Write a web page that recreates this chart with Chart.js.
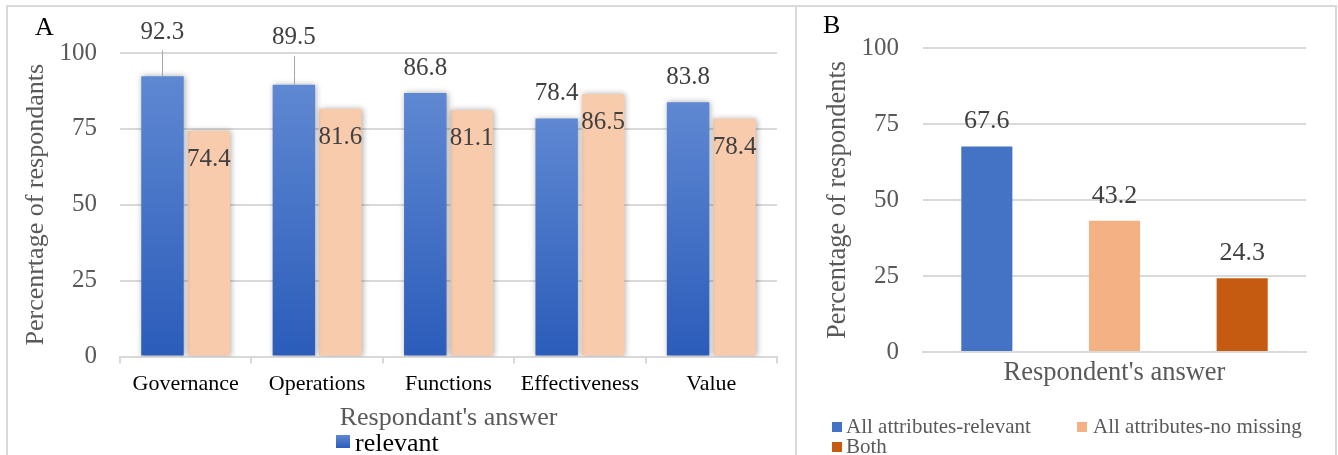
<!DOCTYPE html>
<html><head><meta charset="utf-8">
<script src="https://cdn.jsdelivr.net/npm/chart.js@4"></script>
<style>
html,body{margin:0;padding:0;background:#fff;overflow:hidden;width:1338px;height:455px}
#wrap{position:relative;width:1338px;height:455px;font-family:'Liberation Serif','Times New Roman',serif;overflow:hidden}
.frame{position:absolute;border:2px solid #d9d9d9;box-sizing:border-box}
canvas{position:absolute;top:0}
.txt{position:absolute;white-space:nowrap;line-height:1}
.sw{position:absolute}
</style></head>
<body><div id="wrap">
<div class="frame" style="left:6px;top:5px;width:791px;height:470px"></div>
<div class="frame" style="left:795px;top:5px;width:542px;height:470px"></div>
<canvas id="cA" width="795" height="455" style="left:0"></canvas>
<canvas id="cB" width="543" height="455" style="left:795px"></canvas>
<div class="txt" style="left:35px;top:14px;font-size:26px;color:#000">A</div>
<div class="txt" style="left:823px;top:12px;font-size:26px;color:#000">B</div>
<div class="sw" style="left:336px;top:435px;width:14px;height:13px;background:linear-gradient(#5f88d2,#2b5cba)"></div>
<div class="txt" id="legA" style="left:355px;top:430px;font-size:26px;color:#000"></div>
<div class="sw" style="left:832px;top:422px;width:10px;height:10px;background:#4472c4"></div>
<div class="txt" id="legB0" style="left:846px;top:416px;font-size:21px;color:#595959"></div>
<div class="sw" style="left:1077px;top:422px;width:10px;height:10px;background:#f4b183"></div>
<div class="txt" id="legB1" style="left:1093px;top:416px;font-size:21px;color:#595959"></div>
<div class="sw" style="left:832px;top:442px;width:10px;height:10px;background:#c55a11"></div>
<div class="txt" id="legB2" style="left:846px;top:436px;font-size:21px;color:#595959"></div>
</div>
<script>
// ---- data ----
const categoriesA = ['Governance', 'Operations', 'Functions', 'Effectiveness', 'Value'];
const relevantA = [92.3, 89.5, 86.8, 78.4, 83.8];
const noMissingA = [74.4, 81.6, 81.1, 86.5, 78.4];
const seriesNamesA = ['relevant', 'no missing'];
const yTickValues = [0, 25, 50, 75, 100];
const categoriesB = ['All attributes-relevant', 'All attributes-no missing', 'Both'];
const valuesB = [67.6, 43.2, 24.3];
const titleAxisYA = 'Percenrtage of respondants';
const titleAxisXA = "Respondant's answer";
const titleAxisYB = 'Percentage of respondents';
const titleAxisXB = "Respondent's answer";

// ---- style ----
const FONT = "'Liberation Serif', 'Times New Roman', serif";
const labelLiftA = [44, 47, 25, 25, 25];
const colorsB = ['#4472c4', '#f4b183', '#c55a11'];

document.getElementById('legA').textContent = seriesNamesA[0];
categoriesB.forEach((c, i) => document.getElementById('legB' + i).textContent = c);

const setTicks = s => { s.ticks = yTickValues.map(v => ({value: v})); };

const shadowPlugin = {
  id: 'barShadow',
  beforeDatasetsDraw(chart) {
    const c = chart.ctx; c.save();
    c.shadowColor = 'rgba(0,0,0,0.33)'; c.shadowBlur = 6; c.shadowOffsetX = 1; c.shadowOffsetY = 0;
  },
  afterDatasetsDraw(chart) { chart.ctx.restore(); }
};

const labelsA = {
  id: 'labelsA',
  afterDatasetsDraw(chart) {
    const c = chart.ctx; c.save();
    c.font = '25px ' + FONT; c.fillStyle = '#404040'; c.textAlign = 'center'; c.textBaseline = 'middle';
    chart.getDatasetMeta(0).data.forEach((bar, i) => {
      const y = bar.y - labelLiftA[i];
      c.fillText(relevantA[i].toFixed(1), bar.x, y);
      if (labelLiftA[i] > 30) {
        c.save(); c.strokeStyle = '#a6a6a6'; c.lineWidth = 1;
        c.beginPath(); c.moveTo(Math.round(bar.x) + 0.5, y + 18); c.lineTo(Math.round(bar.x) + 0.5, bar.y); c.stroke();
        c.restore();
      }
    });
    chart.getDatasetMeta(1).data.forEach((bar, i) => {
      c.fillText(noMissingA[i].toFixed(1), bar.x, bar.y + 28.5);
    });
    c.restore();
  }
};

const labelsB = {
  id: 'labelsB',
  afterDatasetsDraw(chart) {
    const c = chart.ctx; c.save();
    c.font = '26px ' + FONT; c.fillStyle = '#404040'; c.textAlign = 'center'; c.textBaseline = 'middle';
    chart.getDatasetMeta(0).data.forEach((bar, i) => {
      c.fillText(valuesB[i].toFixed(1), bar.x, bar.y - 25);
    });
    c.restore();
  }
};

const blueGradient = (ctx) => {
  const chart = ctx.chart;
  if (!chart.chartArea || ctx.type !== 'data') return '#4472c4';
  const ys = chart.scales.y;
  const top = ys.getPixelForValue(ctx.raw), bot = ys.getPixelForValue(0);
  const g = chart.ctx.createLinearGradient(0, top, 0, bot);
  g.addColorStop(0, '#5f88d2'); g.addColorStop(1, '#2b5cba');
  return g;
};

function draw() {
  new Chart(document.getElementById('cA'), {
    type: 'bar',
    data: {
      labels: categoriesA,
      datasets: [
        {label: seriesNamesA[0], data: relevantA, backgroundColor: blueGradient, borderWidth: 0},
        {label: seriesNamesA[1], data: noMissingA, backgroundColor: '#f8cbad', borderWidth: 0}
      ]
    },
    options: {
      responsive: false, animation: false, devicePixelRatio: 1,
      layout: {padding: {top: 53, right: 18, left: 0, bottom: 21.5}},
      datasets: {bar: {categoryPercentage: 0.707, barPercentage: 0.914}},
      plugins: {legend: {display: false}, tooltip: {enabled: false}},
      scales: {
        x: {
          grid: {drawOnChartArea: false, drawTicks: true, tickLength: 7, color: '#d9d9d9', lineWidth: 2, offset: true},
          border: {display: true, color: '#d9d9d9', width: 2},
          ticks: {color: '#000', font: {family: FONT, size: 22}, padding: 8, maxRotation: 0, autoSkip: false},
          title: {display: true, text: titleAxisXA, color: '#595959', font: {family: FONT, size: 26}, padding: {top: 0, bottom: 0}},
          afterFit(s) { s.height = 77; }
        },
        y: {
          min: 0, max: 100, afterBuildTicks: setTicks,
          grid: {color: '#d9d9d9', lineWidth: 2, drawTicks: false},
          border: {display: false},
          ticks: {color: '#595959', font: {family: FONT, size: 25}, padding: 23},
          title: {display: true, text: titleAxisYA, color: '#595959', font: {family: FONT, size: 26}, padding: {top: 21, bottom: 0}},
          afterFit(s) { s.width = 120; }
        }
      }
    },
    plugins: [shadowPlugin, labelsA]
  });

  new Chart(document.getElementById('cB'), {
    type: 'bar',
    data: {
      labels: categoriesB,
      datasets: [{label: titleAxisXB, data: valuesB, backgroundColor: colorsB, borderWidth: 0}]
    },
    options: {
      responsive: false, animation: false, devicePixelRatio: 1,
      layout: {padding: {top: 48, right: 32, left: 0, bottom: 66}},
      datasets: {bar: {categoryPercentage: 1, barPercentage: 0.4}},
      plugins: {legend: {display: false}, tooltip: {enabled: false}},
      scales: {
        x: {
          grid: {display: false},
          border: {display: true, color: '#d9d9d9', width: 2},
          ticks: {display: false},
          title: {display: true, text: titleAxisXB, color: '#595959', font: {family: FONT, size: 26.5}, padding: {top: 0, bottom: 0}},
          afterFit(s) { s.height = 37; }
        },
        y: {
          min: 0, max: 100, afterBuildTicks: setTicks,
          grid: {color: '#d9d9d9', lineWidth: 2, drawTicks: false},
          border: {display: false},
          ticks: {color: '#595959', font: {family: FONT, size: 25}, padding: 24},
          title: {display: true, text: titleAxisYB, color: '#595959', font: {family: FONT, size: 26.5}, padding: {top: 27, bottom: 0}},
          afterFit(s) { s.width = 128; }
        }
      }
    },
    plugins: [labelsB]
  });
}

if (document.fonts && document.fonts.load) {
  Promise.all([document.fonts.load('25px "Liberation Serif"')]).then(draw, draw);
} else {
  draw();
}
</script>
</body></html>
